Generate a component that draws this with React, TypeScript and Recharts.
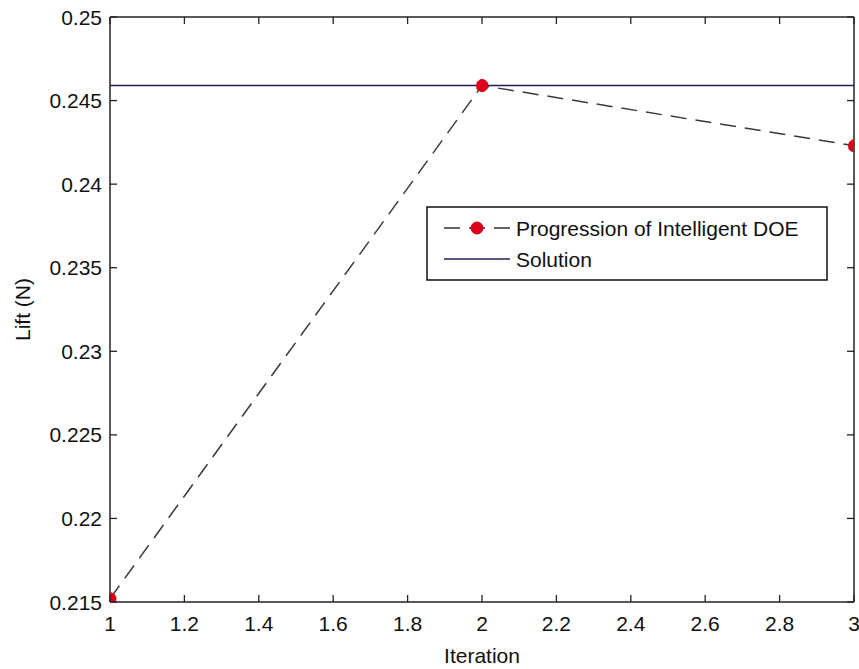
import React from "react";
import { ComposedChart, Line, XAxis, YAxis, ReferenceLine, Legend } from "recharts";

const iterations = [1, 2, 3];
const progression = [0.2152, 0.2459, 0.2423];
const solution = [0.2459, 0.2459, 0.2459];
const xTicks = [1, 1.2, 1.4, 1.6, 1.8, 2, 2.2, 2.4, 2.6, 2.8, 3];
const yTicks = [0.215, 0.22, 0.225, 0.23, 0.235, 0.24, 0.245, 0.25];
const seriesNames = ["Progression of Intelligent DOE", "Solution"];

const data = iterations.map((it, i) => ({ x: it, prog: progression[i], sol: solution[i] }));

const W = 859;
const H = 669;
const TOP = 17;
const LEFT = 110;
const RIGHT = 854;
const BOTTOM = 602;
const FONT = "'Liberation Sans', Arial, sans-serif";
const FS = 21;
const TL = 7;

const XTick = (props: any) => {
  const { x, y, payload } = props;
  const cx = payload.coordinate;
  return (
    <g>
      <line x1={cx} x2={cx} y1={BOTTOM} y2={BOTTOM - TL} stroke="#222" strokeWidth={1.3} />
      <line x1={cx} x2={cx} y1={TOP} y2={TOP + TL} stroke="#222" strokeWidth={1.3} />
      <text x={x} y={y} dy="0.71em" textAnchor="middle" fontFamily={FONT} fontSize={FS} fill="#111">
        {String(payload.value)}
      </text>
    </g>
  );
};

const YTick = (props: any) => {
  const { x, y, payload } = props;
  const cy = payload.coordinate;
  return (
    <g>
      <line x1={LEFT} x2={LEFT + TL} y1={cy} y2={cy} stroke="#222" strokeWidth={1.3} />
      <line x1={RIGHT} x2={RIGHT - TL} y1={cy} y2={cy} stroke="#222" strokeWidth={1.3} />
      <text x={x} y={y} dy="0.36em" textAnchor="end" fontFamily={FONT} fontSize={FS} fill="#111">
        {String(payload.value)}
      </text>
    </g>
  );
};

const LegendBox = () => (
  <svg width={402} height={75} style={{ display: "block" }}>
    <rect x={1} y={1} width={400} height={73} fill="#fff" stroke="#111" strokeWidth={1.5} />
    <line x1={18} x2={84} y1={22} y2={22} stroke="#333" strokeWidth={1.5} strokeDasharray="16 9" />
    <circle cx={51} cy={22} r={6} fill="#e0001b" stroke="#c00010" />
    <text x={90} y={22} dy="0.36em" fontFamily={FONT} fontSize={FS} fill="#111">{seriesNames[0]}</text>
    <line x1={18} x2={84} y1={53} y2={53} stroke="#1f1f5a" strokeWidth={1.5} />
    <text x={90} y={53} dy="0.36em" fontFamily={FONT} fontSize={FS} fill="#111">{seriesNames[1]}</text>
  </svg>
);

export default function App() {
  return (
    <div style={{ position: "absolute", left: 0, top: 0, width: W, height: H, background: "#fff" }}>
      <ComposedChart
        width={W}
        height={H}
        data={data}
        margin={{ top: TOP, right: W - RIGHT, left: 0, bottom: 0 }}
      >
        <XAxis
          dataKey="x"
          type="number"
          domain={[1, 3]}
          ticks={xTicks}
          interval={0}
          height={H - BOTTOM}
          tickLine={false}
          tickSize={0}
          tickMargin={14}
          axisLine={{ stroke: "#222", strokeWidth: 1.5 }}
          tick={<XTick />}
          allowDataOverflow
          label={{
            content: () => (
              <text x={(LEFT + RIGHT) / 2} y={655} dy="0.36em" textAnchor="middle" fontFamily={FONT} fontSize={FS} fill="#111">
                Iteration
              </text>
            ),
          }}
        />
        <YAxis
          type="number"
          domain={[0.215, 0.25]}
          ticks={yTicks}
          interval={0}
          width={LEFT}
          tickLine={false}
          tickSize={0}
          tickMargin={8}
          axisLine={{ stroke: "#222", strokeWidth: 1.5 }}
          tick={<YTick />}
          allowDataOverflow
          label={{
            content: () => (
              <text
                x={22}
                y={(TOP + BOTTOM) / 2}
                dy="0.36em"
                textAnchor="middle"
                fontFamily={FONT}
                fontSize={FS}
                fill="#111"
                transform={`rotate(-90 22 ${(TOP + BOTTOM) / 2})`}
              >
                Lift (N)
              </text>
            ),
          }}
        />
        <ReferenceLine y={0.25} stroke="#222" strokeWidth={1.5} />
        <ReferenceLine x={3} stroke="#222" strokeWidth={1.5} />
        <Line
          dataKey="sol"
          name={seriesNames[1]}
          stroke="#1f1f5a"
          strokeWidth={1.5}
          dot={false}
          isAnimationActive={false}
        />
        <Line
          dataKey="prog"
          name={seriesNames[0]}
          stroke="#3a3a3a"
          strokeWidth={1.5}
          strokeDasharray="16 9"
          dot={{ r: 6, fill: "#e0001b", stroke: "#c00010", strokeWidth: 1 }}
          isAnimationActive={false}
        />
        <Legend
          layout="horizontal"
          verticalAlign="middle"
          align="center"
          content={<LegendBox />}
          wrapperStyle={{ position: "absolute", left: 426, top: 206, width: 402, height: 75 }}
        />
      </ComposedChart>
    </div>
  );
}
